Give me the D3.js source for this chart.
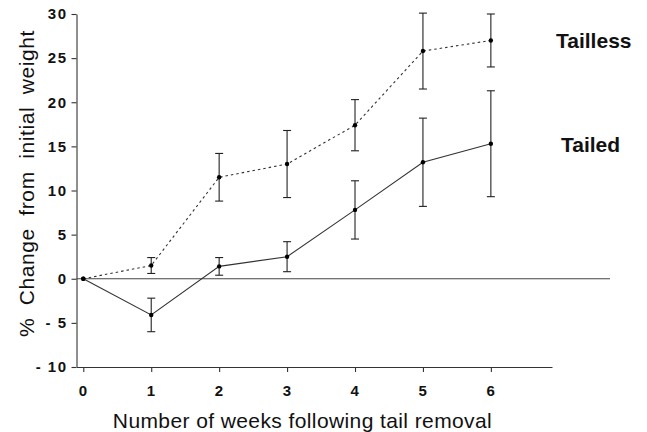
<!DOCTYPE html>
<html>
<head>
<meta charset="utf-8">
<script src="https://cdn.jsdelivr.net/npm/d3@7"></script>
<style>
  body { margin: 0; background: #fff; }
  svg { display: block; }
  text { font-family: "Liberation Sans", Arial, sans-serif; fill: #111; }
</style>
</head>
<body>
<div id="chart"></div>
<script>
// weeks after tail removal
var weeks = [0, 1, 2, 3, 4, 5, 6];

// % change from initial weight
var taillessMean = [0, 1.5, 11.5, 13.0, 17.4, 25.8, 27.0];
var taillessErr  = [0, 0.9, 2.7, 3.8, 2.9, 4.3, 3.0];
var tailedMean   = [0, -4.1, 1.4, 2.5, 7.8, 13.2, 15.3];
var tailedErr    = [0, 1.9, 1.0, 1.7, 3.3, 5.0, 6.0];

var yTicks = [-10, -5, 0, 5, 10, 15, 20, 25, 30];

function make_series(means, errs) {
	var out = [];
	for (i = 0; i < weeks.length; i++) {
		out.push({week: weeks[i], mean: means[i], err: errs[i]});
	};
	return out;
};

function drawseries(svg, data, x, y, dash) {
	var line = d3.line()
		.x(function(d) { return x(d.week) })
		.y(function(d) { return y(d.mean) });

	svg.append("path")
		.datum(data)
		.attr("d", line)
		.attr("fill", "none")
		.attr("stroke", "#333")
		.attr("stroke-width", 1.1)
		.attr("stroke-dasharray", dash);

	var bars = svg.append("g")
		.selectAll("g")
		.data(data.filter(function(d) { return d.err > 0 }))
		.enter()
		.append("g")
		.attr("stroke", "#222")
		.attr("stroke-width", 1.1);

	bars.append("line")
		.attr("x1", function(d) { return x(d.week) })
		.attr("x2", function(d) { return x(d.week) })
		.attr("y1", function(d) { return y(d.mean + d.err) })
		.attr("y2", function(d) { return y(d.mean - d.err) });

	[1, -1].forEach(function(s) {
		bars.append("line")
			.attr("x1", function(d) { return x(d.week) - 4 })
			.attr("x2", function(d) { return x(d.week) + 4 })
			.attr("y1", function(d) { return y(d.mean + s * d.err) })
			.attr("y2", function(d) { return y(d.mean + s * d.err) });
	});

	svg.append("g")
		.selectAll("circle")
		.data(data)
		.enter()
		.append("circle")
		.attr("cx", function(d) { return x(d.week) })
		.attr("cy", function(d) { return y(d.mean) })
		.attr("r", 2.2)
		.attr("fill", "#000");
};

function drawit() {
	var width = 647, height = 432;

	var svg = d3.select("#chart").append("svg")
		.attr("width", width)
		.attr("height", height);

	var x = d3.scaleLinear().domain([-0.1, 6.9]).range([76.5, 552]);
	var y = d3.scaleLinear().domain([-10, 30]).range([367, 14]);

	// axes
	var yAxis = svg.append("g")
		.attr("transform", "translate(" + x(-0.1) + ",0)")
		.call(d3.axisLeft(y)
			.tickValues(yTicks)
			.tickSize(5)
			.tickSizeOuter(0)
			.tickPadding(4)
			.tickFormat(function(d) { return d < 0 ? "- " + Math.abs(d) : d }));

	var xAxis = svg.append("g")
		.attr("transform", "translate(0," + y(-10) + ")")
		.call(d3.axisBottom(x)
			.tickValues(weeks)
			.tickSize(5)
			.tickSizeOuter(0)
			.tickPadding(13)
			.tickFormat(d3.format("d")));

	[yAxis, xAxis].forEach(function(a) {
		a.selectAll("path, line").attr("stroke", "#333").attr("stroke-width", 1.1);
		a.selectAll("text")
			.attr("font-family", "Liberation Sans, Arial, sans-serif")
			.attr("font-size", 15)
			.attr("font-weight", "bold")
			.attr("letter-spacing", 1.5)
			.attr("fill", "#111");
	});

	// zero reference line
	svg.append("line")
		.attr("x1", x(-0.1))
		.attr("x2", 610)
		.attr("y1", y(0))
		.attr("y2", y(0))
		.attr("stroke", "#444")
		.attr("stroke-width", 1);

	drawseries(svg, make_series(taillessMean, taillessErr), x, y, "2.5,3");
	drawseries(svg, make_series(tailedMean, tailedErr), x, y, null);

	// series labels
	svg.append("text")
		.attr("x", 556)
		.attr("y", y(taillessMean[6]) + 8)
		.attr("font-size", 21)
		.attr("font-weight", "bold")
		.text("Tailless");

	svg.append("text")
		.attr("x", 561)
		.attr("y", y(tailedMean[6]) + 8)
		.attr("font-size", 21)
		.attr("font-weight", "bold")
		.text("Tailed");

	// axis titles
	svg.append("text")
		.attr("x", (113 + 492) / 2)
		.attr("y", 428)
		.attr("text-anchor", "middle")
		.attr("font-size", 21)
		.attr("letter-spacing", 0.4)
		.text("Number of weeks following tail removal");

	svg.append("text")
		.attr("transform", "translate(34," + ((22 + 345) / 2) + ") rotate(-90)")
		.attr("text-anchor", "middle")
		.attr("font-size", 21)
		.attr("letter-spacing", 0.6)
		.attr("word-spacing", 6)
		.text("% Change from initial weight");
};

drawit();
</script>
</body>
</html>
